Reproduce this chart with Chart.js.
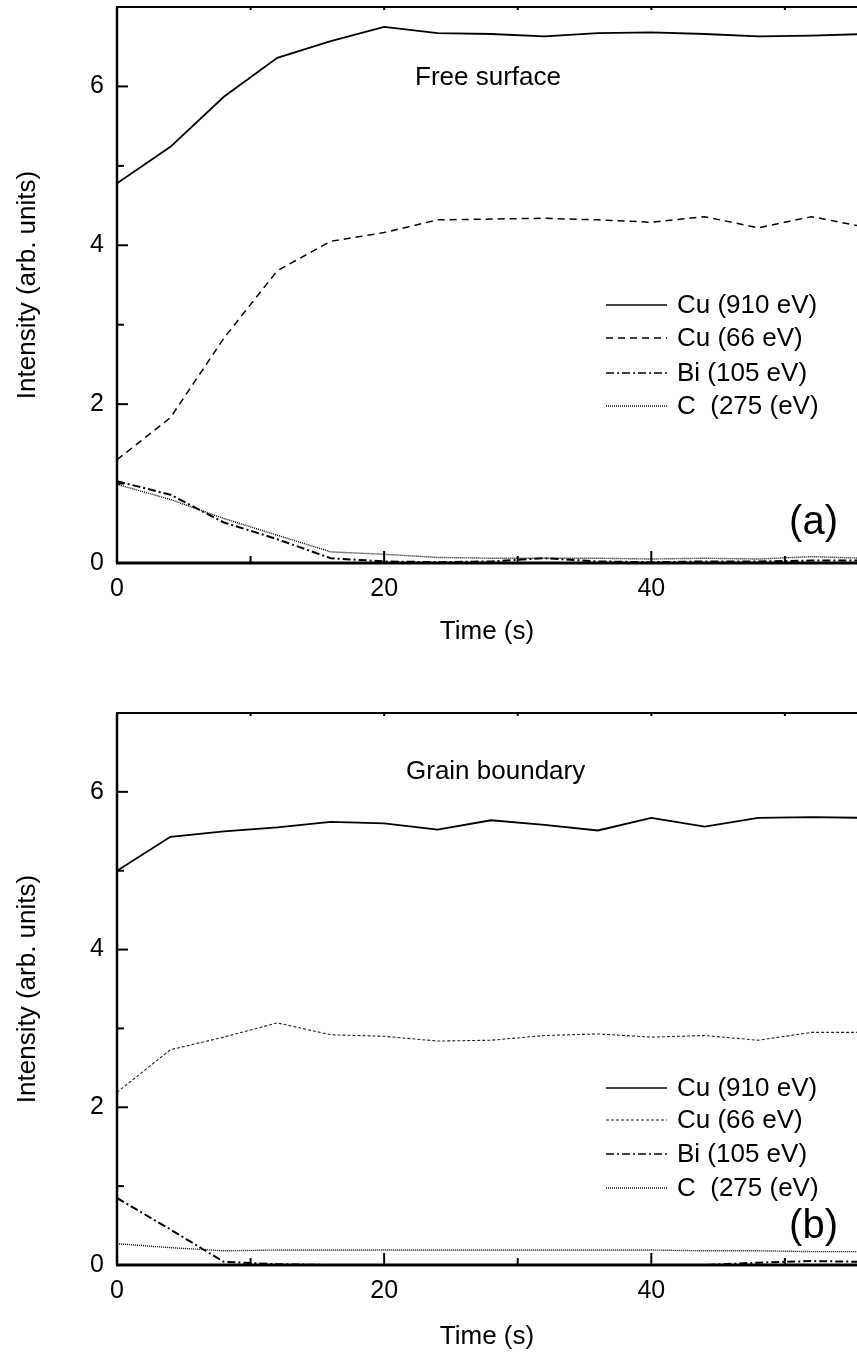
<!DOCTYPE html>
<html>
<head>
<meta charset="utf-8">
<script src="https://cdn.jsdelivr.net/npm/chart.js@4.4.1/dist/chart.umd.min.js"></script>
<style>
  body { margin: 0; background: #fff; }
  .panel { position: absolute; left: 0; width: 857px; height: 676px; }
</style>
</head>
<body>
<div class="panel" style="top:0"><canvas id="chartA" width="857" height="676"></canvas></div>
<div class="panel" style="top:676px"><canvas id="chartB" width="857" height="676"></canvas></div>
<script>
// time axis (s), one reading every 4 s
const timeS = [0, 4, 8, 12, 16, 20, 24, 28, 32, 36, 40, 44, 48, 52, 56];
const seriesNames = ['Cu (910 eV)', 'Cu (66 eV)', 'Bi (105 eV)', 'C  (275 (eV)'];

// (a) free surface
const cu910A = [4.78, 5.24, 5.87, 6.36, 6.57, 6.75, 6.67, 6.66, 6.63, 6.67, 6.68, 6.66, 6.63, 6.64, 6.66];
const cu66A  = [1.30, 1.83, 2.83, 3.68, 4.05, 4.16, 4.32, 4.33, 4.34, 4.32, 4.29, 4.36, 4.22, 4.36, 4.23];
const biA    = [1.03, 0.86, 0.51, 0.30, 0.06, 0.02, 0.01, 0.02, 0.06, 0.02, 0.01, 0.02, 0.02, 0.03, 0.03];
const cA     = [0.99, 0.80, 0.56, 0.35, 0.14, 0.11, 0.07, 0.06, 0.06, 0.06, 0.05, 0.06, 0.05, 0.08, 0.06];

// (b) grain boundary
const cu910B = [5.00, 5.43, 5.50, 5.55, 5.62, 5.60, 5.52, 5.64, 5.58, 5.51, 5.67, 5.56, 5.67, 5.68, 5.67];
const cu66B  = [2.19, 2.73, 2.89, 3.07, 2.92, 2.90, 2.84, 2.85, 2.91, 2.93, 2.89, 2.91, 2.85, 2.95, 2.95];
const biB    = [0.85, 0.45, 0.04, 0.01, 0.00, 0.00, 0.00, 0.00, 0.00, 0.00, 0.00, 0.00, 0.03, 0.05, 0.04];
const cB     = [0.27, 0.22, 0.18, 0.19, 0.19, 0.19, 0.19, 0.19, 0.19, 0.19, 0.19, 0.18, 0.18, 0.17, 0.17];

const yTicks = [0, 2, 4, 6];
const xTicks = [0, 20, 40];

const FONT = '"Liberation Sans", Arial, sans-serif';

function pts(vals) {
    return timeS.map((t, i) => ({ x: t, y: vals[i] }));
}

function makeDatasets(cu910, cu66, bi, c, fineDash) {
    return [
        { label: seriesNames[0], data: pts(cu910), borderColor: '#000', borderWidth: 1.8, borderDash: [] },
        { label: seriesNames[1], data: pts(cu66), borderColor: fineDash ? '#222' : '#000',
          borderWidth: fineDash ? 1.1 : 1.5, borderDash: fineDash ? [3, 2] : [7, 5] },
        { label: seriesNames[2], data: pts(bi), borderColor: '#000', borderWidth: 2, borderDash: [8, 3, 2, 3] },
        { label: seriesNames[3], data: pts(c), borderColor: '#000', borderWidth: 1.4, borderDash: [1, 1] }
    ].map(d => Object.assign(d, { pointRadius: 0, tension: 0, fill: false }));
}

// spines, inward ticks, legend and notes
const framePlugin = {
    id: 'frame',
    afterDraw(chart, args, opts) {
        const ctx = chart.ctx;
        const a = chart.chartArea;
        const xs = chart.scales.x, ys = chart.scales.y;
        ctx.save();
        ctx.strokeStyle = '#000';
        ctx.setLineDash([]);
        // spines (no right spine: plot runs off the picture)
        ctx.lineWidth = 2.5;
        ctx.beginPath();
        ctx.moveTo(a.left, a.top); ctx.lineTo(a.left, a.bottom);
        ctx.stroke();
        ctx.lineWidth = 3;
        ctx.beginPath();
        ctx.moveTo(a.left - 1, a.bottom); ctx.lineTo(a.right, a.bottom);
        ctx.stroke();
        ctx.lineWidth = 2;
        ctx.beginPath();
        ctx.moveTo(a.left - 1, a.top); ctx.lineTo(a.right, a.top);
        ctx.stroke();
        // y ticks
        ctx.lineWidth = 2;
        for (let v = 1; v <= 6; v++) {
            const py = ys.getPixelForValue(v);
            const len = v % 2 === 0 ? 11 : 7;
            ctx.beginPath(); ctx.moveTo(a.left, py); ctx.lineTo(a.left + len, py); ctx.stroke();
        }
        // x ticks bottom and top
        for (let v = 10; v <= 50; v += 10) {
            const px = xs.getPixelForValue(v);
            const len = v % 20 === 0 ? 12 : 7;
            ctx.beginPath(); ctx.moveTo(px, a.bottom); ctx.lineTo(px, a.bottom - len); ctx.stroke();
            ctx.beginPath(); ctx.moveTo(px, a.top); ctx.lineTo(px, a.top + 3); ctx.stroke();
        }
        // legend
        ctx.font = '26px ' + FONT;
        ctx.fillStyle = '#000';
        ctx.textBaseline = 'middle';
        ctx.textAlign = 'left';
        chart.data.datasets.forEach((ds, i) => {
            const y = opts.legendY[i];
            ctx.strokeStyle = ds.borderColor;
            ctx.lineWidth = Math.min(ds.borderWidth, 1.6);
            ctx.setLineDash(ds.borderDash);
            ctx.beginPath(); ctx.moveTo(606, y); ctx.lineTo(667, y); ctx.stroke();
            ctx.fillText(ds.label, 677, y + 1);
        });
        ctx.setLineDash([]);
        // panel notes
        ctx.fillText(opts.note, opts.noteX, opts.noteY);
        ctx.font = '40px ' + FONT;
        ctx.textAlign = 'right';
        ctx.fillText(opts.letter, 838, opts.letterY);
        ctx.restore();
    }
};

function makeChart(id, datasets, padTop, xHeight, titlePadBottom, frame) {
    return new Chart(document.getElementById(id), {
        type: 'line',
        data: { datasets: datasets },
        plugins: [framePlugin],
        options: {
            responsive: false,
            animation: false,
            devicePixelRatio: 1,
            layout: { padding: { top: padTop, right: 0, bottom: 0, left: 0 } },
            plugins: { legend: { display: false }, tooltip: { enabled: false }, frame: frame },
            scales: {
                x: {
                    type: 'linear', min: 0, max: 55.4,
                    grid: { display: false }, border: { display: false },
                    ticks: {
                        stepSize: 10, includeBounds: false, autoSkip: false, maxRotation: 0,
                        padding: 3, color: '#000', font: { family: FONT, size: 25 },
                        callback: v => (xTicks.includes(v) ? String(v) : '')
                    },
                    title: { display: true, text: 'Time (s)', color: '#000',
                             font: { family: FONT, size: 26 }, padding: { top: 0, bottom: titlePadBottom } },
                    afterFit: s => { s.height = xHeight; s.paddingLeft = 0; s.paddingRight = 0; }
                },
                y: {
                    min: 0, max: 7,
                    grid: { display: false }, border: { display: false },
                    ticks: {
                        stepSize: 1, padding: 5, color: '#000', font: { family: FONT, size: 25 },
                        callback: v => (yTicks.includes(v) ? String(v) : '')
                    },
                    title: { display: true, text: 'Intensity (arb. units)', color: '#000',
                             font: { family: FONT, size: 26 }, padding: { top: 12, bottom: 0 } },
                    afterFit: s => { s.width = 117; s.paddingTop = 0; s.paddingBottom = 0; }
                }
            }
        }
    });
}

makeChart('chartA', makeDatasets(cu910A, cu66A, biA, cA, false), 7, 113, 29,
    { legendY: [305, 338, 373, 406], note: 'Free surface', noteX: 415, noteY: 78, letter: '(a)', letterY: 523 });
makeChart('chartB', makeDatasets(cu910B, cu66B, biB, cB, true), 37, 87, 0,
    { legendY: [412, 444, 478, 512], note: 'Grain boundary', noteX: 406, noteY: 96, letter: '(b)', letterY: 551 });
</script>
</body>
</html>
